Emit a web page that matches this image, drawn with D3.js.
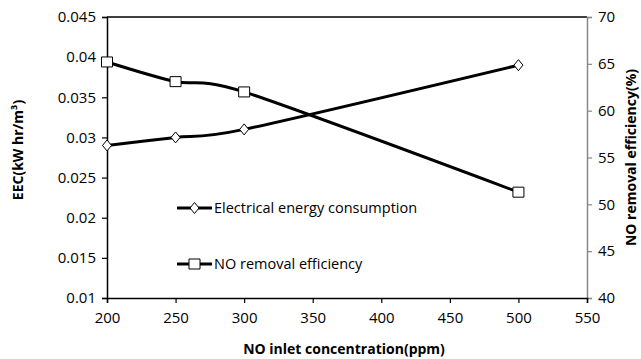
<!DOCTYPE html>
<html>
<head>
<meta charset="utf-8" />
<style>
  body { margin: 0; background: #fff; }
  svg text { font-family: "Open Sans", sans-serif; fill: #000; }
</style>
</head>
<body>
<div id="chart"></div>
<script src="https://cdnjs.cloudflare.com/ajax/libs/d3/7.8.5/d3.min.js"></script>
<script>
// data
const concentration = [200, 250, 300, 500];
const eec = [0.029, 0.030, 0.031, 0.039];
const removal = [65.2, 63.1, 62.0, 51.3];

const xTicks = [200, 250, 300, 350, 400, 450, 500, 550];
const leftTicks = [0.01, 0.015, 0.02, 0.025, 0.03, 0.035, 0.04, 0.045];
const rightTicks = [40, 45, 50, 55, 60, 65, 70];
const legendNames = ["Electrical energy consumption", "NO removal efficiency"];

const width = 641, height = 359;
const margin = { top: 17, right: 54, bottom: 61, left: 107 };

const svg = d3.select("#chart").append("svg")
  .attr("width", width)
  .attr("height", height);

const x = d3.scaleLinear().domain([200, 550]).range([margin.left, width - margin.right]);
const yL = d3.scaleLinear().domain([0.01, 0.045]).range([height - margin.bottom, margin.top]);
const yR = d3.scaleLinear().domain([40, 70]).range([height - margin.bottom, margin.top]);

// top border
svg.append("line")
  .attr("x1", x(200)).attr("x2", x(550))
  .attr("y1", yL(0.045)).attr("y2", yL(0.045))
  .attr("stroke", "#000").attr("stroke-width", 1.5);

// right axis (grey)
const gR = svg.append("g")
  .attr("transform", `translate(${x(550)},0)`)
  .call(d3.axisRight(yR).tickValues(rightTicks).tickSize(5).tickPadding(6).tickFormat(d3.format("d")));
gR.select(".domain").attr("stroke", "#888").attr("stroke-width", 1.5);
gR.selectAll(".tick line").attr("stroke", "#888").attr("stroke-width", 1.2);

// left axis
const gL = svg.append("g")
  .attr("transform", `translate(${x(200)},0)`)
  .call(d3.axisLeft(yL).tickValues(leftTicks).tickSize(5).tickPadding(6).tickFormat(d => String(+d.toFixed(3))));
gL.select(".domain").attr("stroke", "#000").attr("stroke-width", 1.5);
gL.selectAll(".tick line").attr("stroke", "#000").attr("stroke-width", 1.2);

// bottom axis
const gX = svg.append("g")
  .attr("transform", `translate(0,${yL(0.01)})`)
  .call(d3.axisBottom(x).tickValues(xTicks).tickSize(5).tickPadding(9).tickFormat(d3.format("d")));
gX.select(".domain").attr("stroke", "#000").attr("stroke-width", 1.5);
gX.selectAll(".tick line").attr("stroke", "#000").attr("stroke-width", 1.2);

svg.selectAll(".tick text")
  .attr("font-size", 15)
  .attr("font-family", "Open Sans, sans-serif")
  .attr("fill", "#000");

// axis titles
svg.append("text")
  .attr("x", (x(200) + x(550)) / 2 - 3)
  .attr("y", 354)
  .attr("text-anchor", "middle")
  .attr("font-size", 14)
  .attr("font-weight", "bold")
  .text("NO inlet concentration(ppm)");

svg.append("text")
  .attr("transform", "translate(23,150) rotate(-90)")
  .attr("text-anchor", "middle")
  .attr("font-size", 14)
  .attr("font-weight", "bold")
  .text("EEC(kW hr/m³)");

svg.append("text")
  .attr("transform", `translate(636,${(yL(0.045) + yL(0.01)) / 2}) rotate(-90)`)
  .attr("text-anchor", "middle")
  .attr("font-size", 14)
  .attr("font-weight", "bold")
  .text("NO removal efficiency(%)");

// lines
const curve = d3.curveCardinal.tension(0.2);
const lineL = d3.line().x(d => x(d[0])).y(d => yL(d[1])).curve(curve);
const lineR = d3.line().x(d => x(d[0])).y(d => yR(d[1])).curve(curve);

const eecPts = concentration.map((c, i) => [c, eec[i]]);
const remPts = concentration.map((c, i) => [c, removal[i]]);

svg.append("path").attr("d", lineL(eecPts))
  .attr("fill", "none").attr("stroke", "#000").attr("stroke-width", 3);
svg.append("path").attr("d", lineR(remPts))
  .attr("fill", "none").attr("stroke", "#000").attr("stroke-width", 3);

const diamond = (cx, cy) => `M${cx},${cy - 5.5}L${cx + 4.5},${cy}L${cx},${cy + 5.5}L${cx - 4.5},${cy}Z`;
const square = (cx, cy) => `M${cx - 5.5},${cy - 5}h11v10h-11Z`;

svg.selectAll("path.dia").data(eecPts).join("path")
  .attr("class", "dia")
  .attr("d", d => diamond(x(d[0]), yL(d[1])))
  .attr("fill", "#fff").attr("stroke", "#000").attr("stroke-width", 1);

svg.selectAll("path.sq").data(remPts).join("path")
  .attr("class", "sq")
  .attr("d", d => square(x(d[0]), yR(d[1])))
  .attr("fill", "#fff").attr("stroke", "#000").attr("stroke-width", 1);

// legend
const legY = [208, 264];
legendNames.forEach((name, i) => {
  const g = svg.append("g");
  g.append("line").attr("x1", 177).attr("x2", 212).attr("y1", legY[i]).attr("y2", legY[i])
    .attr("stroke", "#000").attr("stroke-width", 3);
  g.append("path")
    .attr("d", i === 0 ? diamond(194.5, legY[i]) : square(194.5, legY[i]))
    .attr("fill", "#fff").attr("stroke", "#000").attr("stroke-width", 1);
  g.append("text").attr("x", 214).attr("y", legY[i] + 5)
    .attr("font-size", 14.5)
    .text(name);
});
</script>
</body>
</html>
